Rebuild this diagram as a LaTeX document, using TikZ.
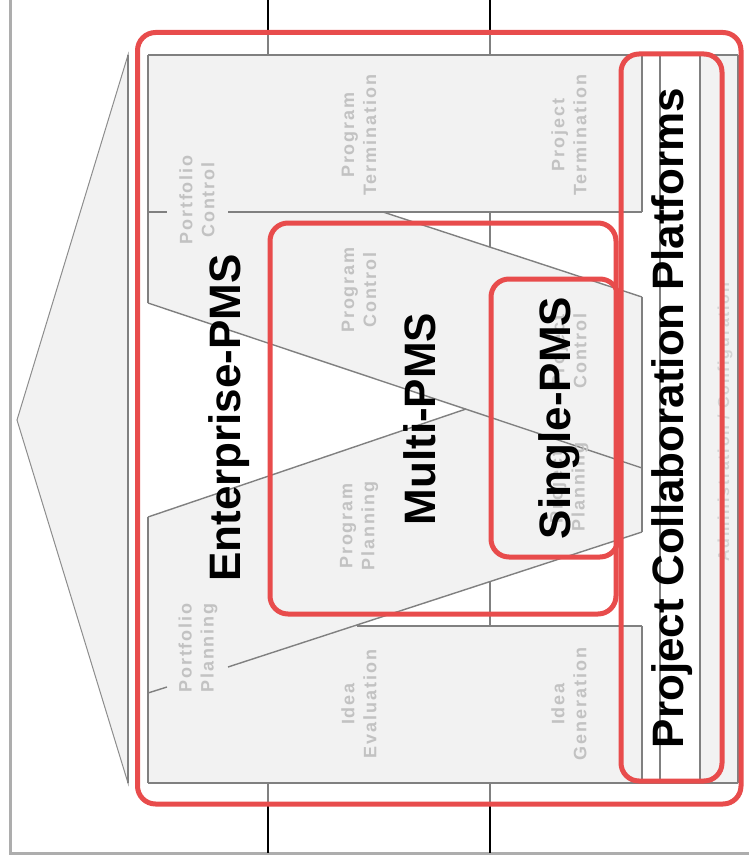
\documentclass[tikz,border=0pt]{standalone}
\usepackage{fontspec}
\setmainfont{Liberation Sans}
\newfontfamily\faintfont[LetterSpace=11]{Liberation Sans}
\definecolor{boxgray}{HTML}{F2F2F2}
\definecolor{linegray}{HTML}{808080}
\definecolor{framegray}{HTML}{ADADAD}
\definecolor{pmsred}{HTML}{E84C4C}
\definecolor{fainttext}{HTML}{C2C2C2}
\tikzset{
  gline/.style={draw=linegray, line width=1.4pt},
  thinline/.style={draw=linegray!90, line width=1pt},
  redbox/.style={draw=pmsred, line width=5pt, rounded corners=18pt},
  faint/.style={rotate=90, align=center, text=fainttext, font=\faintfont\fontsize{18}{22}\selectfont\bfseries, inner sep=0pt},
  stripfaint/.style={rotate=90, text=fainttext!70, font=\faintfont\fontsize{16}{18}\selectfont\bfseries, inner sep=0pt},
  big/.style={rotate=90, anchor=base, font=\fontsize{44}{44}\selectfont\bfseries, inner sep=0pt},
  blackline/.style={draw=black, line width=2pt}
}
\begin{document}
\begin{tikzpicture}[x=1pt,y=-1pt]
\useasboundingbox (0,0) rectangle (749,861);
% outer frame
\draw[draw=framegray, line width=3pt] (10,0) -- (10,853) -- (749,853);
% roof
\filldraw[fill=boxgray, thinline] (128,55) -- (17,420) -- (128,783) -- cycle;
% box fill
\fill[boxgray] (148,55) rectangle (738,783);
% white regions
\fill[white] (128,303) -- (148,303) -- (466,409) -- (148,517) -- (128,517) -- cycle;
\fill[white] (383,212) -- (642,212) -- (642,297) -- cycle;
\fill[white] (357,626) -- (642,532) -- (642,626) -- cycle;
\fill[white] (642,55) rectangle (700,783);
% connectors top / bottom
\coordinate (t1) at (268,0); \coordinate (t1b) at (268,55);
\coordinate (t2) at (490,0); \coordinate (t2b) at (490,55);
\coordinate (b1) at (268,783); \coordinate (b1b) at (268,853);
\coordinate (b2) at (490,783); \coordinate (b2b) at (490,853);
\draw[blackline] (t1) -- (t1b);
\draw[blackline] (t2) -- (t2b);
\draw[blackline] (b1) -- (b1b);
\draw[blackline] (b2) -- (b2b);
\draw[gline] (268,35) -- (t1b);
\draw[gline] (490,35) -- (t2b);
\draw[gline] (b1) -- (268,802);
\draw[gline] (b2) -- (490,802);
% box lines
\draw[gline] (148,55) -- (738,55);
\draw[gline] (148,783) -- (738,783);
\draw[gline] (148,55) -- (148,303);
\draw[gline] (148,517) -- (148,783);
\draw[gline] (148,212) -- (167,212);
\draw[gline] (228,212) -- (642,212);
\draw[gline] (642,55) -- (642,212);
\draw[gline] (642,297) -- (642,532);
\draw[gline] (642,626) -- (642,783);
\draw[gline] (357,626) -- (642,626);
\draw[gline] (128,55) -- (128,783);
% diagonals
\draw[gline] (148,303) -- (642,468);
\draw[gline] (148,517) -- (466,409);
\draw[gline] (383,212) -- (642,297);
\draw[gline] (148,693) -- (167,687);
\draw[gline] (228,667) -- (642,532);
\draw[gline] (490,212) -- (490,247);
\draw[gline] (490,582) -- (490,626);
% strips
\draw[gline] (660,55) -- (660,783);
\draw[gline] (700,55) -- (700,783);
\draw[gline] (738,55) -- (738,783);
% faint labels
\node[faint] (pfc) at (197,200) {Portfolio\\Control};
\node[faint] (pgt) at (359,135) {Program\\Termination};
\node[faint] (prt) at (569,135) {Project\\Termination};
\node[faint] (pgc) at (359,290) {Program\\Control};
\node[faint] (prc) at (569,351) {Project\\Control};
\node[faint] (pgp) at (359,526) {Program\\Planning};
\node[faint] (prp) at (569,487) {Project\\Planning};
\node[faint] (pfp) at (198,648) {Portfolio\\Planning};
\node[faint] (ide) at (359,704) {Idea\\Evaluation};
\node[faint] (idg) at (569,704) {Idea\\Generation};
\node[stripfaint] (adm) at (725,422) {Administration / Configuration};
% red boxes
\draw[redbox] (137.5,32.5) rectangle (741,804);
\draw[redbox] (270,223) rectangle (616,614);
\draw[redbox] (491,279) rectangle (618,557);
\draw[redbox] (621,54) rectangle (722,781);
% big labels
\node[big] (ent) at (240,418) {Enterprise-PMS};
\node[big] (mul) at (435,419) {Multi-PMS};
\node[big] (sin) at (570,418) {Single-PMS};
\node[big] (pcp) at (683,418) {Project Collaboration Platforms};
\end{tikzpicture}
\end{document}
